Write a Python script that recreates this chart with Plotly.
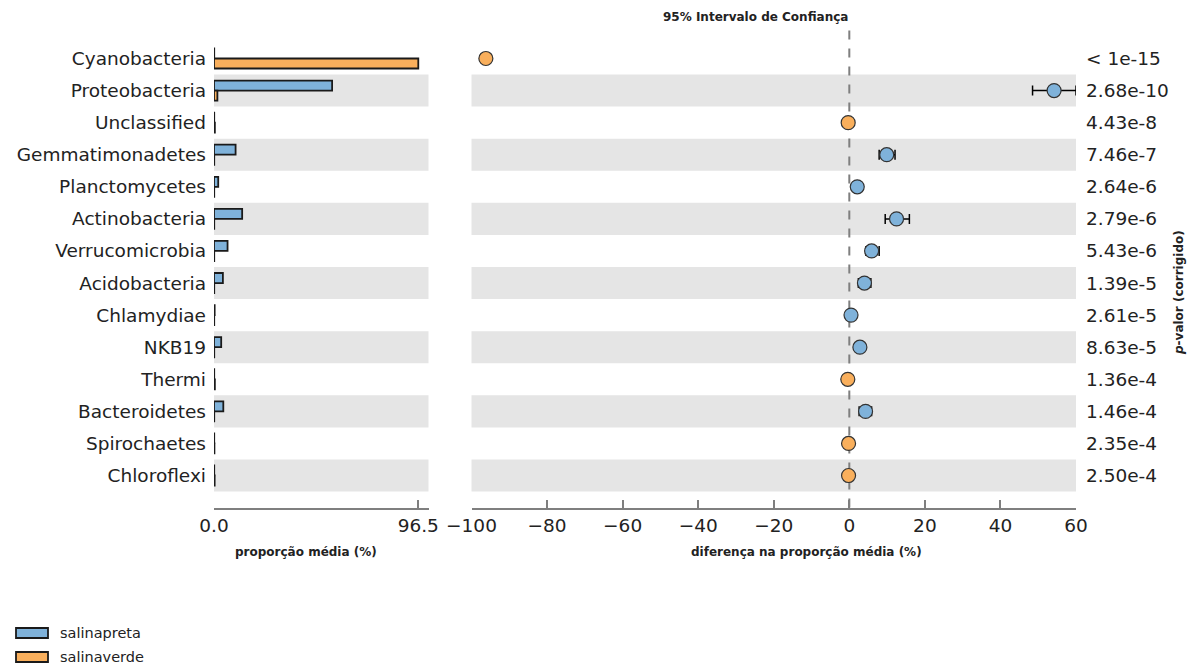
import plotly.graph_objects as go

# Phyla compared between the two salinas
categories = ["Cyanobacteria", "Proteobacteria", "Unclassified", "Gemmatimonadetes",
              "Planctomycetes", "Actinobacteria", "Verrucomicrobia", "Acidobacteria",
              "Chlamydiae", "NKB19", "Thermi", "Bacteroidetes", "Spirochaetes", "Chloroflexi"]

group_names = ["salinapreta", "salinaverde"]

# Mean proportion (%) per group
mean_preta = [0.1, 55.8, 0.1, 10.2, 2.0, 13.3, 6.4, 4.2, 0.3, 3.4, 0.1, 4.4, 0.1, 0.1]
mean_verde = [96.5, 1.6, 0.4, 0.1, 0.1, 0.1, 0.1, 0.1, 0.1, 0.1, 0.4, 0.1, 0.2, 0.3]

# Difference in mean proportion (%) and its 95% confidence interval
diff = [-96.2, 54.2, -0.3, 9.9, 2.1, 12.5, 5.9, 4.0, 0.45, 2.8, -0.4, 4.3, -0.2, -0.2]
ci_low = [-96.7, 48.5, -0.5, 7.9, 1.5, 9.5, 4.4, 2.4, 0.2, 2.1, -0.6, 2.6, -0.4, -0.4]
ci_high = [-95.7, 60.0, -0.1, 12.1, 2.7, 15.9, 7.9, 5.7, 0.7, 3.6, -0.2, 5.9, 0.0, 0.0]

p_values = ["< 1e-15", "2.68e-10", "4.43e-8", "7.46e-7", "2.64e-6", "2.79e-6", "5.43e-6",
            "1.39e-5", "2.61e-5", "8.63e-5", "1.36e-4", "1.46e-4", "2.35e-4", "2.50e-4"]

left_ticks = [0.0, 96.5]
right_ticks = [-100, -80, -60, -40, -20, 0, 20, 40, 60]

BLUE = "#7FB2DA"
ORANGE = "#F9AF5C"
EDGE = "#1a1a1a"
GRID = "#e5e5e5"
SPINE = "#7f7f7f"
TXT = "#222222"
FONT = "DejaVu Sans"
BIG = 18.5
SMALL = 12

W, H = 1194, 666


def px_x(p):
    return p / W


def px_y(p):
    return 1 - p / H


fig = go.Figure()

# Mean proportion bars
for name, vals, col in [(group_names[0], mean_preta, BLUE), (group_names[1], mean_verde, ORANGE)]:
    fig.add_trace(go.Bar(
        y=categories, x=vals, orientation="h", name=name,
        marker=dict(color=col, line=dict(color=EDGE, width=1.8)),
        xaxis="x", yaxis="y", showlegend=False, hoverinfo="x+y",
    ))

# Difference points with confidence intervals
point_colors = [BLUE if d > 0 else ORANGE for d in diff]
fig.add_trace(go.Scatter(
    x=diff, y=categories, mode="markers", xaxis="x2", yaxis="y",
    marker=dict(size=14, color=point_colors, line=dict(color="#333333", width=1.2)),
    error_x=dict(type="data", symmetric=False,
                 array=[h - d for h, d in zip(ci_high, diff)],
                 arrayminus=[d - l for d, l in zip(diff, ci_low)],
                 color="black", thickness=1.5, width=5),
    showlegend=False,
))

shapes = []
# Alternating row shading in both panels
for i, _ in enumerate(categories):
    if i % 2 == 1:
        for xr in ("x domain", "x2 domain"):
            shapes.append(dict(type="rect", xref=xr, yref="y", x0=0, x1=1,
                               y0=i - 0.5, y1=i + 0.5, fillcolor=GRID,
                               line=dict(width=0), layer="below"))

# Zero reference line
shapes.append(dict(type="line", xref="x2", yref="y domain", x0=0, x1=0, y0=0, y1=1,
                   line=dict(color=SPINE, width=2, dash="dash"), layer="below"))

# Legend swatches
legend_rows = [(group_names[0], BLUE, 633), (group_names[1], ORANGE, 657)]
annotations = []
for name, col, yc in legend_rows:
    shapes.append(dict(type="rect", xref="paper", yref="paper",
                       x0=px_x(16), x1=px_x(48), y0=px_y(yc + 5), y1=px_y(yc - 5),
                       fillcolor=col, line=dict(color=EDGE, width=1.8)))
    annotations.append(dict(text=name, xref="paper", yref="paper", x=px_x(58), y=px_y(yc),
                            xanchor="left", yanchor="middle", showarrow=False,
                            font=dict(family=FONT, size=14.5, color=TXT)))

# p-values on the right
for cat, p in zip(categories, p_values):
    annotations.append(dict(text=p, xref="paper", yref="y", x=px_x(1084), y=cat,
                            xanchor="left", yanchor="middle", showarrow=False,
                            font=dict(family=FONT, size=BIG, color=TXT)))

annotations += [
    dict(text="<b>95% Intervalo de Confiança</b>", xref="paper", yref="paper",
         x=px_x(755), y=px_y(17), xanchor="center", yanchor="middle", showarrow=False,
         font=dict(family=FONT, size=SMALL, color=TXT)),
    dict(text="<b>proporção média (%)</b>", xref="paper", yref="paper",
         x=px_x(306), y=px_y(552), xanchor="center", yanchor="middle", showarrow=False,
         font=dict(family=FONT, size=SMALL, color=TXT)),
    dict(text="<b>diferença na proporção média (%)</b>", xref="paper", yref="paper",
         x=px_x(806), y=px_y(552), xanchor="center", yanchor="middle", showarrow=False,
         font=dict(family=FONT, size=SMALL, color=TXT)),
    dict(text="<b><i>p</i>-valor (corrigido)</b>", xref="paper", yref="paper",
         x=px_x(1179), y=px_y(293), xanchor="center", yanchor="middle", showarrow=False,
         textangle=-90, font=dict(family=FONT, size=SMALL, color=TXT)),
]

axis_common = dict(showgrid=False, zeroline=False, showline=True, linecolor=SPINE,
                   linewidth=1.5, ticks="inside", ticklen=8, tickwidth=1.5, tickcolor=SPINE,
                   tickfont=dict(family=FONT, size=BIG, color=TXT), fixedrange=True,
                   automargin=False)

y_top, y_bot = 26.4, 507.6

fig.update_layout(
    width=W, height=H,
    margin=dict(l=0, r=0, t=0, b=0, pad=0, autoexpand=False),
    paper_bgcolor="white", plot_bgcolor="white",
    barmode="group", bargap=0.375, bargroupgap=0,
    xaxis=dict(domain=[px_x(214), px_x(428.5)], range=[0, 96.5 * 1.05],
               tickvals=left_ticks, ticktext=[f"{v:.1f}" for v in left_ticks],
               anchor="y", **axis_common),
    xaxis2=dict(domain=[px_x(471.5), px_x(1076)], range=[-100, 60],
                tickvals=right_ticks, anchor="y", **axis_common),
    yaxis=dict(domain=[px_y(y_bot), px_y(y_top)], type="category",
               categoryorder="array", categoryarray=categories,
               range=[len(categories), -1], showgrid=False, zeroline=False,
               showline=False, ticks="", ticklabelstandoff=7, automargin=False,
               tickfont=dict(family=FONT, size=BIG, color=TXT), anchor="x", fixedrange=True),
    shapes=shapes,
    annotations=annotations,
    showlegend=False,
)

fig.write_html("out.html")
